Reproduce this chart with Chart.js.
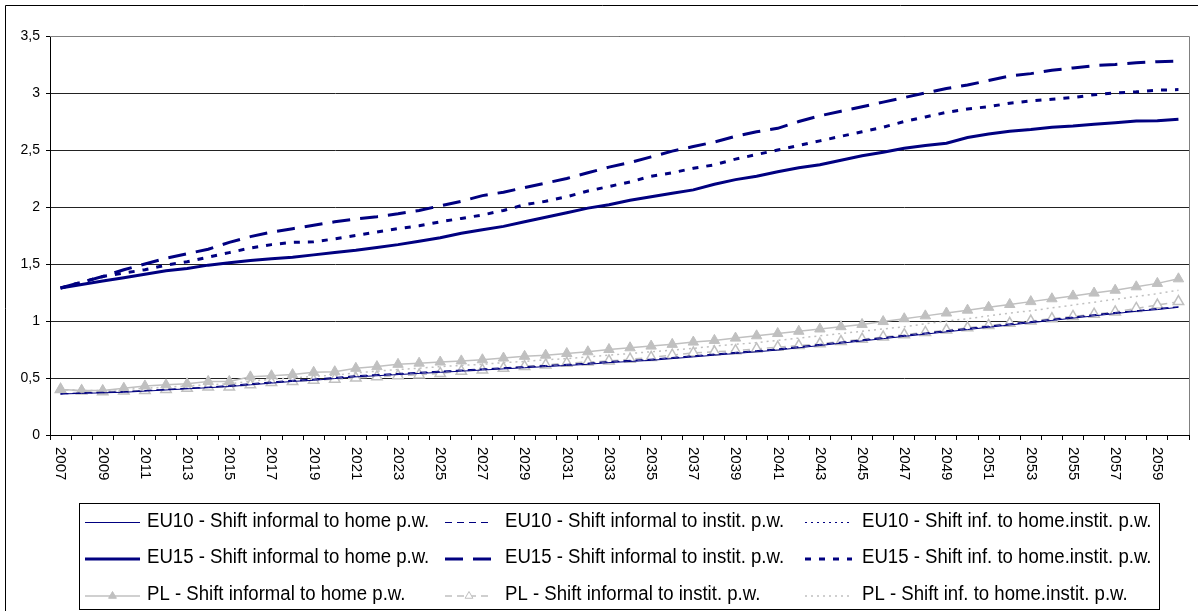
<!DOCTYPE html>
<html><head><meta charset="utf-8">
<script src="https://cdn.jsdelivr.net/npm/chart.js@4.4.0/dist/chart.umd.min.js"></script>
<style>html,body{margin:0;padding:0;background:#fff;overflow:hidden}canvas{display:block}</style>
</head><body>
<canvas id="c" width="1198" height="611"></canvas>
<script>
const years = [2007,2008,2009,2010,2011,2012,2013,2014,2015,2016,2017,2018,2019,2020,2021,2022,2023,2024,2025,2026,2027,2028,2029,2030,2031,2032,2033,2034,2035,2036,2037,2038,2039,2040,2041,2042,2043,2044,2045,2046,2047,2048,2049,2050,2051,2052,2053,2054,2055,2056,2057,2058,2059,2060];

const eu10Home = [0.36,0.365,0.37,0.375,0.385,0.395,0.405,0.415,0.425,0.44,
  0.455,0.47,0.48,0.495,0.51,0.52,0.53,0.54,0.55,0.56,
  0.57,0.58,0.59,0.60,0.61,0.62,0.635,0.645,0.655,0.67,
  0.685,0.70,0.715,0.73,0.745,0.765,0.785,0.805,0.825,0.845,
  0.865,0.885,0.905,0.925,0.945,0.965,0.985,1.005,1.025,1.045,
  1.065,1.085,1.10,1.12];
const eu10Instit = [0.36,0.37,0.375,0.38,0.39,0.40,0.41,0.42,0.435,0.45,
  0.465,0.48,0.49,0.505,0.52,0.53,0.54,0.55,0.56,0.57,
  0.58,0.59,0.60,0.61,0.62,0.63,0.645,0.655,0.665,0.68,
  0.695,0.71,0.725,0.74,0.755,0.775,0.795,0.815,0.835,0.855,
  0.875,0.895,0.915,0.935,0.955,0.975,0.995,1.015,1.035,1.055,
  1.075,1.09,1.11,1.125];
const eu10Mixed = [0.36,0.367,0.372,0.378,0.388,0.398,0.408,0.418,0.43,0.445,
  0.46,0.475,0.485,0.50,0.515,0.525,0.535,0.545,0.555,0.565,
  0.575,0.585,0.595,0.605,0.615,0.625,0.64,0.65,0.66,0.675,
  0.69,0.705,0.72,0.735,0.75,0.77,0.79,0.81,0.83,0.85,
  0.87,0.89,0.91,0.93,0.95,0.97,0.99,1.01,1.03,1.05,
  1.07,1.088,1.105,1.122];
const eu15Home = [1.29,1.32,1.35,1.38,1.41,1.44,1.46,1.49,1.51,1.53,
  1.545,1.56,1.58,1.60,1.62,1.645,1.67,1.70,1.73,1.77,
  1.80,1.83,1.87,1.91,1.95,1.99,2.02,2.06,2.09,2.12,
  2.15,2.20,2.24,2.27,2.31,2.345,2.37,2.41,2.45,2.48,
  2.515,2.54,2.56,2.61,2.64,2.665,2.68,2.70,2.71,2.725,
  2.74,2.755,2.757,2.77];
const eu15Instit = [1.29,1.34,1.39,1.45,1.50,1.55,1.59,1.63,1.69,1.74,
  1.78,1.81,1.84,1.87,1.895,1.915,1.94,1.97,2.01,2.05,
  2.10,2.13,2.17,2.21,2.25,2.30,2.35,2.39,2.44,2.49,
  2.53,2.57,2.62,2.66,2.69,2.75,2.80,2.84,2.88,2.92,
  2.96,3.00,3.04,3.07,3.11,3.15,3.17,3.20,3.22,3.24,
  3.25,3.265,3.275,3.28];
const eu15Mixed = [1.29,1.34,1.39,1.42,1.45,1.49,1.52,1.56,1.60,1.64,
  1.67,1.69,1.695,1.72,1.75,1.78,1.81,1.835,1.87,1.90,
  1.93,1.97,2.02,2.05,2.09,2.14,2.18,2.22,2.27,2.30,
  2.34,2.37,2.42,2.46,2.50,2.54,2.58,2.62,2.66,2.70,
  2.75,2.79,2.83,2.86,2.88,2.91,2.93,2.945,2.96,2.985,
  3.00,3.01,3.025,3.03];
const plHome = [0.40,0.39,0.39,0.41,0.43,0.44,0.45,0.47,0.47,0.51,
  0.52,0.53,0.55,0.555,0.585,0.60,0.62,0.63,0.64,0.65,
  0.66,0.675,0.69,0.70,0.715,0.73,0.75,0.765,0.78,0.795,
  0.815,0.83,0.85,0.87,0.89,0.91,0.93,0.95,0.97,0.995,
  1.02,1.045,1.07,1.095,1.12,1.145,1.17,1.195,1.22,1.245,
  1.27,1.30,1.33,1.37];
const plInstit = [0.40,0.385,0.38,0.385,0.39,0.40,0.41,0.42,0.42,0.44,
  0.46,0.47,0.48,0.49,0.50,0.51,0.52,0.527,0.54,0.56,
  0.57,0.585,0.60,0.615,0.63,0.64,0.65,0.665,0.68,0.70,
  0.72,0.73,0.74,0.755,0.77,0.785,0.80,0.82,0.84,0.86,
  0.88,0.90,0.92,0.94,0.96,0.98,1.00,1.02,1.04,1.06,
  1.08,1.11,1.14,1.17];
const plMixed = [0.40,0.39,0.39,0.40,0.41,0.42,0.43,0.44,0.45,0.47,
  0.49,0.50,0.515,0.525,0.545,0.56,0.575,0.585,0.60,0.61,
  0.62,0.635,0.645,0.66,0.67,0.685,0.70,0.715,0.73,0.745,
  0.76,0.78,0.795,0.81,0.83,0.85,0.87,0.89,0.91,0.93,
  0.95,0.975,1.00,1.02,1.045,1.07,1.09,1.115,1.14,1.165,
  1.19,1.215,1.24,1.27];

const seriesLabels = [
  'EU10 - Shift informal to home p.w.',
  'EU10 - Shift informal to instit. p.w.',
  'EU10 - Shift inf. to home.instit. p.w.',
  'EU15 - Shift informal to home p.w.',
  'EU15 - Shift informal to instit. p.w.',
  'EU15 - Shift inf. to home.instit. p.w.',
  'PL - Shift informal to home p.w.',
  'PL - Shift informal to instit. p.w.',
  'PL - Shift inf. to home.instit. p.w.'
];
const yMin = 0, yMax = 3.5, yStep = 0.5;

const NAVY = '#000080', GREY = '#c0c0c0';
const FONT = "'Liberation Sans', Arial, sans-serif";

function ds(label, data, color, width, dash, extra) {
  return Object.assign({
    label, data, borderColor: color, backgroundColor: color, borderWidth: width,
    borderDash: dash, pointRadius: 0, pointHoverRadius: 0, tension: 0, fill: false
  }, extra || {});
}

const datasets = [
  ds(seriesLabels[0], eu10Home, NAVY, 1, []),
  ds(seriesLabels[1], eu10Instit, NAVY, 1, [7,5]),
  ds(seriesLabels[2], eu10Mixed, NAVY, 1, [2,4]),
  ds(seriesLabels[3], eu15Home, NAVY, 3, []),
  ds(seriesLabels[4], eu15Instit, NAVY, 3, [18,10]),
  ds(seriesLabels[5], eu15Mixed, NAVY, 3, [6,8]),
  ds(seriesLabels[6], plHome, GREY, 1.5, [], {pointStyle:'triangle', pointRadius:6, pointBackgroundColor:GREY, pointBorderColor:GREY, pointBorderWidth:1}),
  ds(seriesLabels[7], plInstit, GREY, 1.5, [7,5], {pointStyle:'triangle', pointRadius:6, pointBackgroundColor:'#ffffff', pointBorderColor:GREY, pointBorderWidth:1.5}),
  ds(seriesLabels[8], plMixed, GREY, 1.5, [2,4])
];

const framePlugin = {
  id: 'frame',
  beforeDraw(chart) {
    const ctx = chart.ctx;
    ctx.save();
    ctx.fillStyle = '#fff';
    ctx.fillRect(0, 0, chart.width, chart.height);
    ctx.restore();
  },
  beforeDatasetsDraw(chart) {
    const {ctx, chartArea: a} = chart;
    ctx.save();
    ctx.strokeStyle = '#808080';
    ctx.lineWidth = 1;
    ctx.beginPath();
    ctx.moveTo(a.left, Math.round(a.top) + 0.5);
    ctx.lineTo(Math.round(a.right) + 0.5, Math.round(a.top) + 0.5);
    ctx.lineTo(Math.round(a.right) + 0.5, a.bottom);
    ctx.stroke();
    ctx.restore();
  },
  afterDraw(chart) {
    const ctx = chart.ctx;
    const xs = chart.scales.x;
    ctx.save();
    ctx.strokeStyle = '#000';
    ctx.lineWidth = 1;
    ctx.beginPath();
    ctx.moveTo(5.5, chart.height + 2);
    ctx.lineTo(5.5, 5.5);
    ctx.lineTo(chart.width + 2, 5.5);
    ctx.stroke();

    ctx.fillStyle = '#000';
    ctx.font = '15px ' + FONT;
    ctx.textAlign = 'left';
    ctx.textBaseline = 'middle';
    const top = chart.chartArea.bottom + 12;
    years.forEach((yr, i) => {
      if ((yr - years[0]) % 2 !== 0) return;
      const x = xs.getPixelForValue(i);
      ctx.save();
      ctx.translate(x, top);
      ctx.rotate(Math.PI / 2);
      ctx.fillText(String(yr), 0, 0);
      ctx.restore();
    });

    const bx = 79.5, by = 503.5, bw = 1080, bh = 106;
    ctx.strokeStyle = '#000';
    ctx.strokeRect(bx, by, bw, bh);
    const colSample = [[85, 140], [445, 493], [805, 852]];
    const colText = [147, 505, 862];
    const baselines = [526.5, 563, 600];
    chart.data.datasets.forEach((d, i) => {
      const col = i % 3, row = Math.floor(i / 3);
      const [x0, x1] = colSample[col];
      const ly = baselines[row] - 4;
      ctx.save();
      ctx.strokeStyle = d.borderColor;
      ctx.lineWidth = Math.min(d.borderWidth, 3);
      ctx.setLineDash(d.borderDash || []);
      ctx.beginPath();
      ctx.moveTo(x0, ly);
      ctx.lineTo(x1, ly);
      ctx.stroke();
      ctx.setLineDash([]);
      if (d.pointStyle === 'triangle') {
        const cx = (x0 + x1) / 2, r = 4.5;
        ctx.beginPath();
        ctx.moveTo(cx, ly - r);
        ctx.lineTo(cx + r * 0.866, ly + r * 0.5);
        ctx.lineTo(cx - r * 0.866, ly + r * 0.5);
        ctx.closePath();
        ctx.fillStyle = d.pointBackgroundColor;
        ctx.fill();
        ctx.lineWidth = 1;
        ctx.strokeStyle = d.pointBorderColor;
        ctx.stroke();
      }
      ctx.fillStyle = '#000';
      ctx.font = '20px ' + FONT;
      ctx.textAlign = 'left';
      ctx.textBaseline = 'alphabetic';
      ctx.translate(colText[col], baselines[row]);
      ctx.scale(0.93, 1);
      ctx.fillText(d.label, 0, 0);
      ctx.restore();
    });
    ctx.restore();
  }
};

new Chart(document.getElementById('c'), {
  type: 'line',
  data: { labels: years.map(String), datasets },
  options: {
    responsive: false,
    animation: false,
    devicePixelRatio: 1,
    layout: { padding: { top: 36, right: 9, bottom: 0, left: 0 } },
    plugins: { legend: { display: false }, tooltip: { enabled: false } },
    elements: { line: { tension: 0 } },
    scales: {
      x: {
        type: 'category',
        offset: true,
        grid: { offset: true, drawOnChartArea: false, drawTicks: true, tickLength: 5, color: '#000', tickColor: '#000' },
        border: { display: true, color: '#000', width: 1 },
        ticks: { display: false, autoSkip: false },
        afterFit(scale) { scale.height = 176; }
      },
      y: {
        min: yMin, max: yMax,
        grid: { color: '#222', tickLength: 4, tickColor: '#000', drawTicks: true },
        border: { display: true, color: '#000', width: 1 },
        ticks: {
          stepSize: yStep, color: '#000', padding: 6,
          font: { family: FONT, size: 14 },
          callback: v => String(v).replace('.', ',')
        },
        afterFit(scale) { scale.width = 50; }
      }
    }
  },
  plugins: [framePlugin]
});
</script>
</body></html>
